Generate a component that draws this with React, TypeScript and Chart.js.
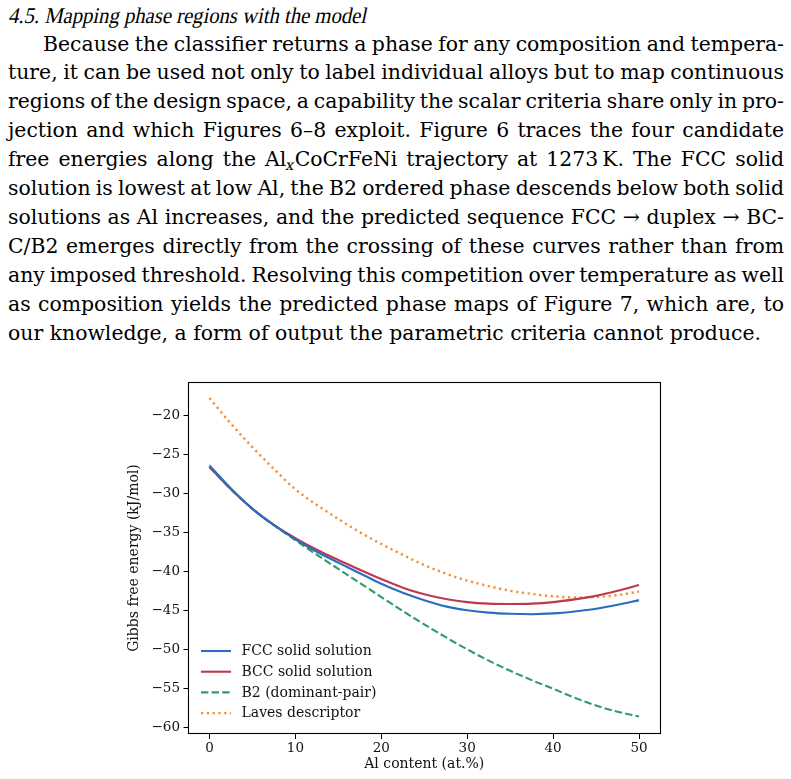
import React, { useEffect, useLayoutEffect, useRef, useState } from 'react';
import { Chart, registerables } from 'chart.js';

Chart.register(...registerables);

// ---------------- data ----------------
const alContent = [0, 2.5, 5, 7.5, 10, 12.5, 15, 17.5, 20, 22.5, 25, 27.5, 30, 32.5, 35, 37.5, 40, 42.5, 45, 47.5, 50];
const fccEnergy = [-26.45, -29.4, -32.0, -34.1, -35.9, -37.5, -38.9, -40.25, -41.6, -42.75, -43.7, -44.5, -45.0, -45.3, -45.45, -45.5, -45.4, -45.15, -44.8, -44.3, -43.7];
const bccEnergy = [-26.65, -29.5, -32.0, -34.05, -35.75, -37.25, -38.55, -39.8, -41.0, -42.1, -42.95, -43.55, -43.95, -44.15, -44.2, -44.15, -43.95, -43.6, -43.15, -42.5, -41.75];
const b2Energy = [-26.65, -29.5, -32.0, -34.1, -36.0, -37.9, -39.7, -41.5, -43.3, -45.1, -46.8, -48.45, -50.0, -51.45, -52.75, -53.95, -55.05, -56.2, -57.2, -58.0, -58.6];
const lavesEnergy = [-17.8, -21.1, -24.1, -26.9, -29.5, -31.5, -33.3, -35.0, -36.5, -37.9, -39.2, -40.3, -41.2, -41.9, -42.5, -42.9, -43.2, -43.35, -43.3, -43.05, -42.6];
const seriesLabels = ['FCC solid solution', 'BCC solid solution', 'B2 (dominant-pair)', 'Laves descriptor'];
const xTicks = [0, 10, 20, 30, 40, 50];
const yTicks = [-60, -55, -50, -45, -40, -35, -30, -25, -20];
const xTitle = 'Al content (at.%)';
const yTitle = 'Gibbs free energy (kJ/mol)';

const titleText = '4.5. Mapping phase regions with the model';

const CHART_FONT = '"DejaVu Serif", serif';
const TEXT_COLOR = '#111';

const fmt = (v: number) => (v < 0 ? '\u2212' + Math.abs(v) : String(v));

const framePlugin = {
  id: 'frameAndLegend',
  afterDraw(chart: any) {
    const { ctx, chartArea } = chart;
    const l = Math.round(chartArea.left) + 0.5;
    const t = Math.round(chartArea.top) + 0.5;
    const r = Math.round(chartArea.right) - 0.5;
    const b = Math.round(chartArea.bottom) - 0.5;
    ctx.save();
    ctx.strokeStyle = '#000';
    ctx.lineWidth = 1.1;
    ctx.setLineDash([]);
    ctx.strokeRect(l, t, r - l, b - t);

    // legend inside the plot area, lower left
    const rowH = 20.7;
    const firstY = chartArea.bottom - 83;
    chart.data.datasets.forEach((ds: any, i: number) => {
      const y = firstY + i * rowH;
      ctx.beginPath();
      ctx.strokeStyle = ds.borderColor;
      ctx.lineWidth = ds.borderWidth;
      ctx.setLineDash(ds.borderDash || []);
      ctx.lineCap = 'butt';
      ctx.moveTo(chartArea.left + 13, y);
      ctx.lineTo(chartArea.left + 43, y);
      ctx.stroke();
      ctx.setLineDash([]);
      ctx.fillStyle = TEXT_COLOR;
      ctx.font = '14px ' + CHART_FONT;
      ctx.textBaseline = 'middle';
      ctx.textAlign = 'left';
      ctx.fillText(ds.label, chartArea.left + 53.5, y + 0.5);
    });
    ctx.restore();
  },
};

function EnergyChart() {
  const ref = useRef<HTMLCanvasElement | null>(null);
  useEffect(() => {
    if (!ref.current) return;
    const series = [fccEnergy, bccEnergy, b2Energy, lavesEnergy];
    const colors = ['#2b6cc0', '#bd3a4c', '#2e9c6c', '#f28e34'];
    const dashes: number[][] = [[], [], [7.4, 3.2], [2.2, 3.6]];
    const chart = new Chart(ref.current, {
      type: 'scatter',
      data: {
        datasets: series.map((vals, i) => ({
          label: seriesLabels[i],
          data: alContent.map((x, j) => ({ x, y: vals[j] })),
          showLine: true,
          borderColor: colors[i],
          backgroundColor: colors[i],
          borderWidth: i === 3 ? 2.4 : 2.1,
          borderDash: dashes[i],
          pointRadius: 0,
          fill: false,
          cubicInterpolationMode: 'monotone',
        })),
      },
      options: {
        responsive: false,
        animation: false,
        layout: { padding: { left: 126, right: 130.5, top: 22, bottom: 6 } },
        plugins: { legend: { display: false }, tooltip: { enabled: false } },
        scales: {
          x: {
            type: 'linear',
            min: -2.5,
            max: 52.5,
            afterBuildTicks: (s: any) => {
              s.ticks = xTicks.map((v) => ({ value: v }));
            },
            afterFit: (s: any) => {
              s.height = 39;
            },
            grid: { display: true, drawOnChartArea: false, drawTicks: true, tickLength: 5, tickColor: '#000', tickWidth: 1 },
            border: { display: false },
            ticks: {
              font: { family: CHART_FONT, size: 13.5 },
              color: TEXT_COLOR,
              padding: 1.5,
              maxRotation: 0,
              autoSkip: false,
              callback: (v: any) => fmt(Number(v)),
            },
            title: { display: true, text: xTitle, font: { family: CHART_FONT, size: 14 }, color: TEXT_COLOR, padding: 0 },
          },
          y: {
            type: 'linear',
            min: -60.85,
            max: -15.75,
            afterBuildTicks: (s: any) => {
              s.ticks = yTicks.map((v) => ({ value: v }));
            },
            afterFit: (s: any) => {
              s.width = 62;
            },
            grid: { display: true, drawOnChartArea: false, drawTicks: true, tickLength: 4.5, tickColor: '#000', tickWidth: 1 },
            border: { display: false },
            ticks: {
              font: { family: CHART_FONT, size: 13.5 },
              color: TEXT_COLOR,
              padding: 3.5,
              autoSkip: false,
              callback: (v: any) => fmt(Number(v)),
            },
            title: { display: true, text: yTitle, font: { family: CHART_FONT, size: 14 }, color: TEXT_COLOR, padding: 0 },
          },
        },
      } as any,
      plugins: [framePlugin],
    });
    return () => chart.destroy();
  }, []);
  return <canvas ref={ref} width={791} height={419} style={{ position: 'absolute', left: 0, top: 360, width: 791, height: 419 }} />;
}

// ---------------- text block ----------------
const TEXT_FONT = '"DejaVu Serif", serif';
const TITLE_FONT = '"Liberation Serif", "DejaVu Serif", serif';
const TEXT_SIZE = 20.4;
const LINE_H = 28.9;
const FIRST_LINE_TOP = 29.5;
const TEXT_LEFT = 8;
const TEXT_WIDTH = 776;
const TITLE_WIDTH = 358;

const Sub = () => (
  <span style={{ display: 'inline-block', fontSize: '0.72em', position: 'relative', top: '0.28em', transform: 'skewX(-12deg)' }}>x</span>
);

const paragraphLines: React.ReactNode[] = [
  'Because the classifier returns a phase for any composition and tempera-',
  'ture, it can be used not only to label individual alloys but to map continuous',
  'regions of the design space, a capability the scalar criteria share only in pro-',
  'jection and which Figures 6\u20138 exploit. Figure 6 traces the four candidate',
  <>free energies along the Al<Sub />CoCrFeNi trajectory at 1273{'\u2009'}K. The FCC solid</>,
  'solution is lowest at low Al, the B2 ordered phase descends below both solid',
  'solutions as Al increases, and the predicted sequence FCC \u2192 duplex \u2192 BC-',
  'C/B2 emerges directly from the crossing of these curves rather than from',
  'any imposed threshold. Resolving this competition over temperature as well',
  'as composition yields the predicted phase maps of Figure 7, which are, to',
  'our knowledge, a form of output the parametric criteria cannot produce.',
];

function JLine({ children, top, indent, justify }: { children: React.ReactNode; top: number; indent: number; justify: boolean }) {
  const ref = useRef<HTMLSpanElement | null>(null);
  const [ws, setWs] = useState(0);
  useLayoutEffect(() => {
    if (!justify || !ref.current) return;
    const w = ref.current.getBoundingClientRect().width;
    const n = ((ref.current.textContent || '').match(/ /g) || []).length;
    if (n > 0) setWs((TEXT_WIDTH - indent - w) / n);
  }, [justify, indent]);
  return (
    <div
      style={{
        position: 'absolute',
        left: TEXT_LEFT + indent,
        top,
        height: LINE_H,
        lineHeight: LINE_H + 'px',
        fontFamily: TEXT_FONT,
        fontSize: TEXT_SIZE,
        whiteSpace: 'nowrap',
      }}
    >
      <span ref={ref} style={{ wordSpacing: ws }}>
        {children}
      </span>
    </div>
  );
}

function Title() {
  const ref = useRef<HTMLSpanElement | null>(null);
  const [sx, setSx] = useState(1);
  useLayoutEffect(() => {
    if (!ref.current) return;
    const w = ref.current.offsetWidth;
    if (w > 0) setSx(TITLE_WIDTH / w);
  }, []);
  return (
    <div
      style={{
        position: 'absolute',
        left: TEXT_LEFT,
        top: 1.5,
        height: LINE_H,
        lineHeight: LINE_H + 'px',
        fontFamily: TITLE_FONT,
        fontSize: 22.5,
        whiteSpace: 'nowrap',
      }}
    >
      <span
        ref={ref}
        style={{ display: 'inline-block', transform: `scaleX(${sx}) skewX(-13deg)`, transformOrigin: '0 21px' }}
      >
        {titleText}
      </span>
    </div>
  );
}

export default function App() {
  return (
    <div style={{ position: 'absolute', left: 0, top: 0, width: 791, height: 779, background: '#fff', overflow: 'hidden', color: '#000' }}>
      <Title />
      {paragraphLines.map((ln, i) => (
        <JLine key={i} top={FIRST_LINE_TOP + i * LINE_H} indent={i === 0 ? 35 : 0} justify={i !== paragraphLines.length - 1}>
          {ln}
        </JLine>
      ))}
      <EnergyChart />
    </div>
  );
}
